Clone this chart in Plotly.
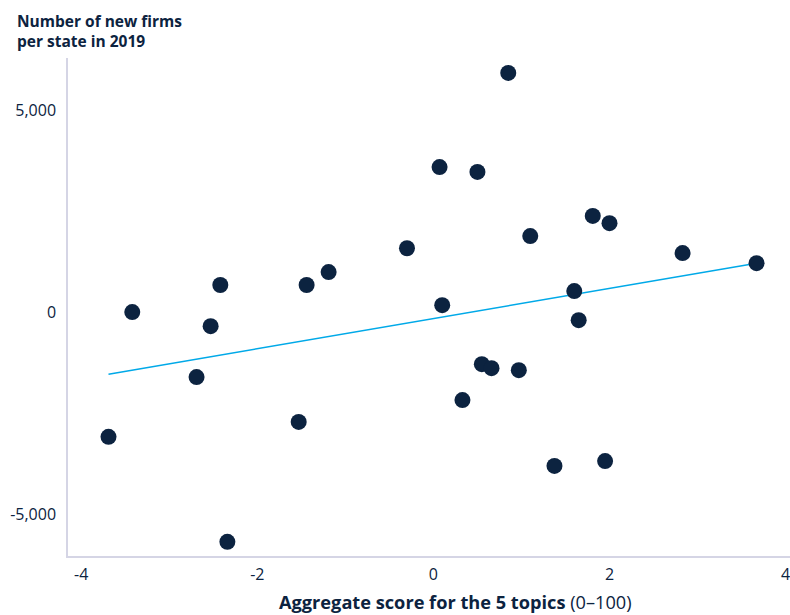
import plotly.graph_objects as go

# Aggregate score (x) and number of new firms per state in 2019 (y)
score = [-3.69, -3.42, -2.69, -2.53, -2.42, -2.34, -1.53, -1.44, -1.19, -0.30,
         0.07, 0.10, 0.33, 0.50, 0.55, 0.66, 0.85, 0.97, 1.10, 1.375,
         1.60, 1.65, 1.81, 1.95, 2.00, 2.83, 3.67]
new_firms = [-3090, 0, -1610, -350, 670, -5690, -2720, 670, 990, 1580,
             3590, 170, -2180, 3470, -1290, -1390, 5920, -1440, 1880, -3810,
             520, -200, 2380, -3690, 2200, 1460, 1210]

# Trend line endpoints
trend_x = [-3.69, 3.67]
trend_y = [-1540, 1210]

x_tickvals = [-4, -2, 0, 2, 4]
x_ticktext = ["-4", "-2", "0", "2", "4"]
y_tickvals = [-5000, 0, 5000]
y_ticktext = ["-5,000", "0", "5,000"]

navy = "#0c2340"
font_family = "Open Sans, Noto Sans, sans-serif"

W, H = 790, 615
L, R, T, B = 68, 0, 58, 59
PW, PH = W - L - R, H - T - B

fig = go.Figure()
fig.add_trace(go.Scatter(x=trend_x, y=trend_y, mode="lines",
                         line=dict(color="#00a9e8", width=1.5),
                         hoverinfo="skip", showlegend=False))
fig.add_trace(go.Scatter(x=score, y=new_firms, mode="markers",
                         marker=dict(color=navy, size=16, line=dict(width=0)),
                         showlegend=False))

fig.update_layout(
    width=W, height=H,
    margin=dict(l=L, r=R, t=T, b=B, autoexpand=False),
    paper_bgcolor="white", plot_bgcolor="white",
    font=dict(family=font_family, color=navy, size=16),
    xaxis=dict(range=[-4.15, 4.05], tickvals=x_tickvals, ticktext=x_ticktext,
               showgrid=False, zeroline=False, showline=True, automargin=False,
               linecolor="#d5d5e5", linewidth=1.5, ticks="",
               ticklabeloverflow="allow",
               ticklabelstandoff=3, tickfont=dict(size=16, color=navy)),
    yaxis=dict(range=[-6040, 6290], tickvals=y_tickvals, ticktext=y_ticktext,
               showgrid=False, zeroline=False, showline=True, automargin=False,
               linecolor="#d5d5e5", linewidth=1.5, ticks="",
               ticklabeloverflow="allow",
               ticklabelstandoff=7, tickfont=dict(size=16, color=navy)),
    annotations=[
        dict(text="<b>Number of new firms<br>per state in 2019</b>",
             xref="paper", yref="paper", x=(15 - L) / PW, y=1 + (T - 8) / PH,
             xanchor="left", yanchor="top", align="left", showarrow=False,
             font=dict(size=15.5, color=navy, family=font_family)),
        dict(text="<b>Aggregate score for the 5 topics</b> (0–100)",
             xref="paper", yref="paper", x=(455.5 - L) / PW, y=-32 / PH,
             xanchor="center", yanchor="top", showarrow=False,
             font=dict(size=18.2, color=navy, family=font_family)),
    ],
)

fig.write_html("out.html",
               config={"displayModeBar": False},
               post_script="document.body.style.margin='0';"
                           "document.body.style.overflow='hidden';")
